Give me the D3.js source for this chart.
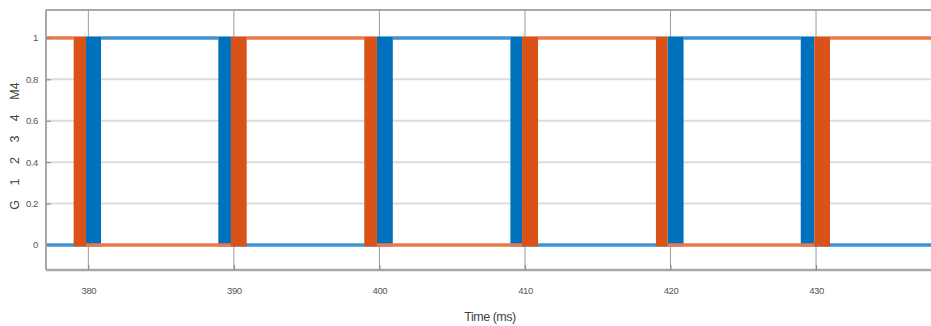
<!DOCTYPE html>
<html>
<head>
<meta charset="utf-8">
<script src="https://cdn.jsdelivr.net/npm/d3@7"></script>
<style>
  html, body { margin: 0; padding: 0; background: #fff; }
  svg { display: block; }
  text { font-family: "Liberation Sans", Arial, sans-serif; fill: #4a4a4a; }
</style>
</head>
<body>
<svg id="chart" width="931" height="326"></svg>
<script>
// Gate signals: each pair of edge times is one switching band [start, end];
// the level toggles across every band.
const blueEdges   = [379.84, 380.87, 388.93, 389.80, 399.83, 400.92, 409.00, 409.80, 419.80, 420.90, 428.95, 429.88];
const orangeEdges = [378.99, 379.84, 389.80, 390.88, 398.96, 399.83, 409.80, 410.90, 419.00, 419.80, 429.88, 430.96];
const blueStart = 0;
const orangeStart = 1;

const xTicks = [380, 390, 400, 410, 420, 430];
const yTicks = [0, 0.2, 0.4, 0.6, 0.8, 1];
const yTickLabels = ["0", "0.2", "0.4", "0.6", "0.8", "1"];
const xDomain = [377.09, 437.9];
const yDomain = [-0.121, 1.135];
const xTitle = "Time (ms)";
const yTitle = "G 1 2 3 4 M4";

const W = 931, H = 326;
const margin = { left: 46, right: 0, top: 10, bottom: 56 };

const svg = d3.select("#chart");
const x = d3.scaleLinear().domain(xDomain).range([margin.left, W - margin.right]);
const y = d3.scaleLinear().domain(yDomain).range([H - margin.bottom, margin.top]);

const plot = svg.append("g");

// horizontal grid
plot.append("g").selectAll("line").data(yTicks).join("line")
  .attr("x1", margin.left).attr("x2", W)
  .attr("y1", d => y(d)).attr("y2", d => y(d))
  .attr("stroke", "#dcdcdc").attr("stroke-width", 2);

// vertical grid
plot.append("g").selectAll("line").data(xTicks).join("line")
  .attr("x1", d => x(d)).attr("x2", d => x(d))
  .attr("y1", margin.top).attr("y2", H - margin.bottom)
  .attr("stroke", "#9a9a9a").attr("stroke-width", 1);

// build level segments and bands for one signal
function segments(edges, start) {
  const levels = [];
  const bands = [];
  let level = start;
  let t = xDomain[0];
  for (let i = 0; i < edges.length; i += 2) {
    levels.push({ t0: t, t1: edges[i], v: level });
    bands.push({ t0: edges[i], t1: edges[i + 1] });
    level = 1 - level;
    t = edges[i + 1];
  }
  levels.push({ t0: t, t1: xDomain[1], v: level });
  return { levels, bands };
}

const series = [
  { name: "blue", edges: blueEdges, start: blueStart, line: "#3f93d3", band: "#0072bd" },
  { name: "orange", edges: orangeEdges, start: orangeStart, line: "#e8794a", band: "#d95319" }
];

const lineGen = d3.line().x(d => x(d[0])).y(d => y(d[1]));

series.forEach(s => {
  const { levels, bands } = segments(s.edges, s.start);
  const g = plot.append("g");
  g.selectAll("path").data(levels).join("path")
    .attr("d", d => lineGen([[d.t0, d.v], [d.t1, d.v]]))
    .attr("fill", "none")
    .attr("stroke", s.line)
    .attr("stroke-width", 3.5);
  g.selectAll("rect").data(bands).join("rect")
    .attr("x", d => x(d.t0))
    .attr("width", d => x(d.t1) - x(d.t0))
    .attr("y", y(1) - 1.5)
    .attr("height", y(0) - y(1) + 3)
    .attr("fill", s.band);
});

// axes box
const box = svg.append("g");
box.append("line").attr("x1", margin.left).attr("x2", W).attr("y1", margin.top).attr("y2", margin.top)
  .attr("stroke", "#a8a8a8").attr("stroke-width", 2);
box.append("line").attr("x1", margin.left).attr("x2", W).attr("y1", H - margin.bottom).attr("y2", H - margin.bottom)
  .attr("stroke", "#a8a8a8").attr("stroke-width", 2.5);
box.append("line").attr("x1", margin.left).attr("x2", margin.left).attr("y1", margin.top).attr("y2", H - margin.bottom)
  .attr("stroke", "#a8a8a8").attr("stroke-width", 2);

// axes with inward ticks
const yAxis = d3.axisLeft(y).tickValues(yTicks).tickFormat((d, i) => yTickLabels[i]).tickSize(-5).tickPadding(8);
const yg = svg.append("g").attr("transform", `translate(${margin.left},0)`).call(yAxis);
yg.select(".domain").remove();
yg.selectAll(".tick line").attr("stroke", "#888");
yg.selectAll("text").attr("font-size", 9.5).attr("letter-spacing", -0.4).style("fill", "#555");

const xAxis = d3.axisBottom(x).tickValues(xTicks).tickSize(-5).tickPadding(17);
const xg = svg.append("g").attr("transform", `translate(0,${H - margin.bottom})`).call(xAxis);
xg.select(".domain").remove();
xg.selectAll(".tick line").attr("stroke", "#888");
xg.selectAll("text").attr("font-size", 9.5).attr("letter-spacing", -0.4).style("fill", "#555");

// titles
svg.append("text")
  .attr("x", 490).attr("y", 321)
  .attr("text-anchor", "middle")
  .attr("font-size", 12.5)
  .attr("letter-spacing", -0.5)
  .style("fill", "#444")
  .text(xTitle);

svg.append("text")
  .attr("transform", "translate(19,146) rotate(-90)")
  .attr("text-anchor", "middle")
  .attr("font-size", 12.5)
  .attr("word-spacing", 11)
  .style("fill", "#444")
  .text(yTitle);
</script>
</body>
</html>
